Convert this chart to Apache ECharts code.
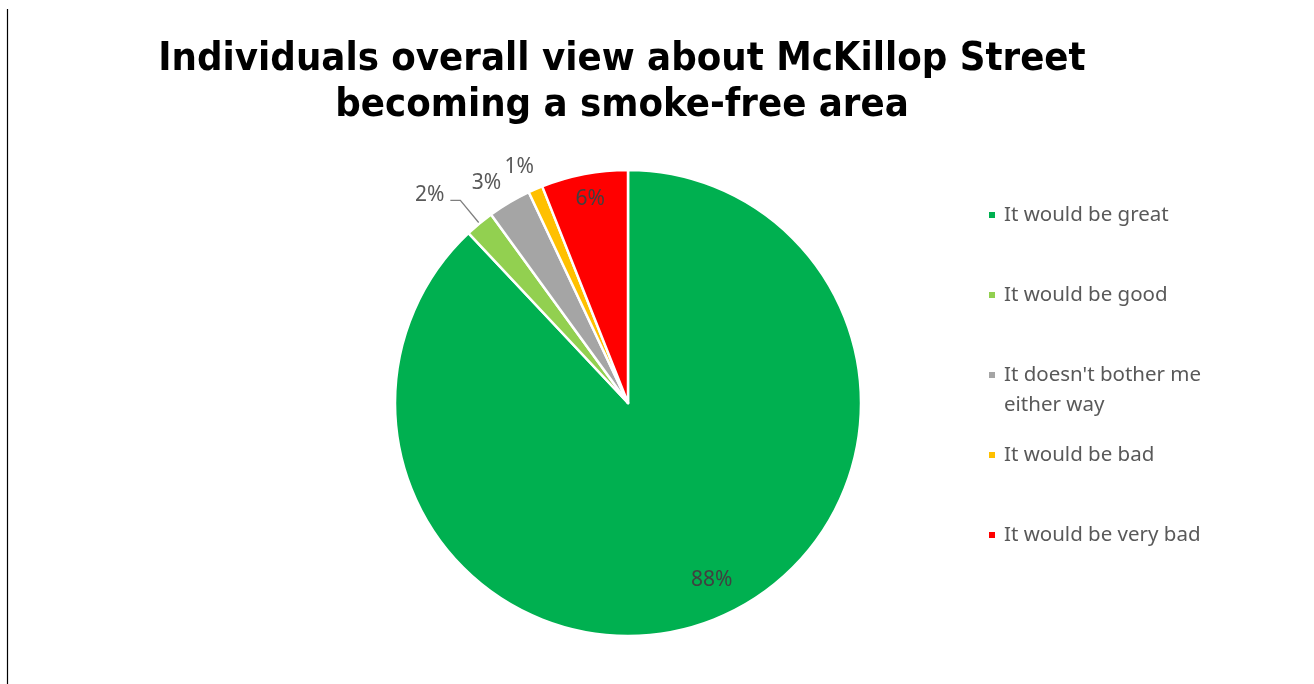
<!DOCTYPE html>
<html>
<head>
<meta charset="utf-8">
<title>McKillop Street smoke-free survey</title>
<script src="https://cdn.jsdelivr.net/npm/echarts@6/dist/echarts.min.js"></script>
<style>
  html, body { margin: 0; padding: 0; background: #ffffff; }
  #chart { width: 1314px; height: 684px; }
</style>
</head>
<body>
<div id="chart"></div>
<script>
// Survey responses (percent of individuals)
const categories = [
  'It would be great',
  'It would be good',
  "It doesn't bother me either way",
  'It would be bad',
  'It would be very bad'
];
const shares = [88, 2, 3, 1, 6];
const colors = ['#00B050', '#92D050', '#A5A5A5', '#FFC000', '#FF0000'];

const titleText = 'Individuals overall view about McKillop Street\nbecoming a smoke-free area';

// Per-slice label placement: radial line length, horizontal run, gap to text
const labelPlacement = [
  { len: -43, len2: 0, gap: -7, color: '#404040' },
  { len: 30, len2: 10, gap: 6, color: '#595959', line: true, pad: [0, 0, 10, 0] },
  { len: 22, len2: 0, gap: -3, color: '#595959' },
  { len: 24, len2: 0, gap: -8, color: '#595959' },
  { len: -25, len2: 0, gap: -16, color: '#404040' }
];

const labelFont = '"Noto Sans", "Open Sans", sans-serif';

const pieData = categories.map((name, i) => {
  const p = labelPlacement[i];
  const label = { color: p.color, distanceToLabelLine: p.gap };
  if (p.pad) {
    // rich mode so the padding lifts the text above its leader line
    label.padding = p.pad;
    label.rich = { v: {} };
  }
  return {
    name: name,
    value: shares[i],
    itemStyle: { color: colors[i] },
    label: label,
    labelLine: {
      show: !!p.line,
      length: p.len,
      length2: p.len2
    }
  };
});

// Legend entries: the two-line entry keeps its marker on the first line
const legendData = categories.map((name, i) => ({
  name: name,
  textStyle: i === 2 ? { padding: [30, 0, 0, 3] } : { padding: [30, 0, 30, 3] }
}));

const chart = echarts.init(document.getElementById('chart'), null, { renderer: 'canvas' });

chart.setOption({
  backgroundColor: '#ffffff',
  animation: false,
  title: {
    text: titleText,
    left: 622,
    top: 37,
    padding: 0,
    textAlign: 'center',
    textStyle: {
      fontFamily: '"Liberation Sans Narrow", "Arial Narrow", "DejaVu Sans Condensed", "Liberation Sans", sans-serif',
      fontWeight: 'bold',
      fontSize: 39.7,
      lineHeight: 46,
      color: '#000000'
    }
  },
  legend: {
    orient: 'vertical',
    left: 987,
    top: 170,
    padding: 0,
    itemGap: -10,
    itemWidth: 8,
    itemHeight: 8,
    icon: 'rect',
    data: legendData,
    textStyle: {
      fontFamily: labelFont,
      fontSize: 20.5,
      lineHeight: 30,
      color: '#595959',
      width: 240,
      overflow: 'break',
      rich: { n: {} }
    }
  },
  graphic: [{
    type: 'line',
    shape: { x1: 7.5, y1: 9, x2: 7.5, y2: 684 },
    style: { stroke: '#000000', lineWidth: 1.2 },
    silent: true
  }],
  series: [{
    type: 'pie',
    center: [628, 403],
    radius: 233,
    startAngle: 90,
    clockwise: true,
    avoidLabelOverlap: false,
    itemStyle: { borderColor: '#ffffff', borderWidth: 2.5 },
    label: {
      show: true,
      position: 'outside',
      fontFamily: labelFont,
      fontSize: 21,
      formatter: p => Math.round(p.percent) + '%'
    },
    labelLine: {
      lineStyle: { color: '#7f7f7f', width: 1.3 },
      smooth: false
    },
    emphasis: { disabled: true },
    data: pieData
  }]
});
</script>
</body>
</html>
